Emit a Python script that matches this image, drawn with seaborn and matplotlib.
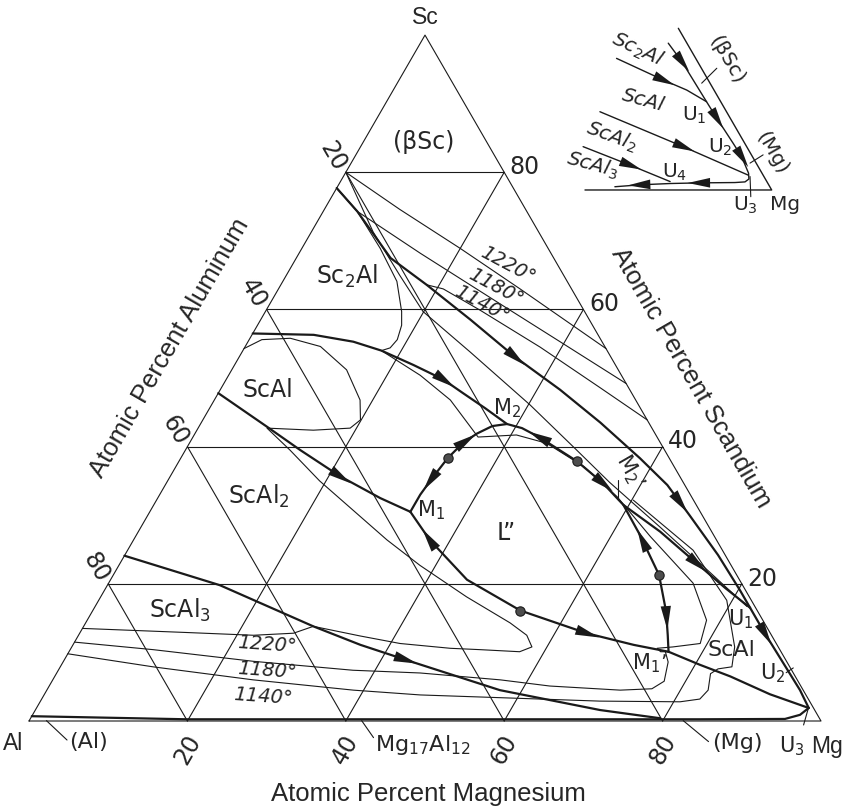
import numpy as np
import pandas as pd
import matplotlib
matplotlib.use("Agg")
import matplotlib.pyplot as plt
import seaborn as sns

sns.set_theme(style="white")
plt.rcParams["font.family"] = ["DejaVu Sans"]
plt.rcParams["mathtext.fontset"] = "dejavusans"

H = np.sqrt(3) / 2

# ---- Al-Mg-Sc liquidus projection, compositions in at.% (Mg, Sc) ----
ticks = [20, 40, 60, 80]

# isotherms (thin)
iso1220_top_mg = [0, 9.5, 20.0, 30.5, 45.7]
iso1220_top_sc = [80, 74.6, 68.9, 63.0, 54.3]
iso1180_top_mg = [0, 4.3, 15.3, 29.1, 39.4, 50.8]
iso1180_top_sc = [77.7, 74.3, 68.2, 60.8, 55.3, 49.2]
iso1140_top_mg = [18.4, 20.8, 27.0, 37.3, 47.8, 56.1]
iso1140_top_sc = [63.6, 63.0, 59.9, 54.5, 48.6, 43.9]
bsc_side_mg = [0, 7.8, 14.3, 19.9, 28.8, 40.2, 49.4, 55.9, 65.5, 75.1, 82.3]
bsc_side_sc = [80, 71.3, 65.0, 59.7, 53.8, 46.1, 39.5, 34.8, 28.3, 21.7, 16.7]
sc2al_iso_mg = [0, 4.3, 9.9, 14.4, 17.2, 18.2, 18.7, 18.4, 17.5]
sc2al_iso_sc = [77.7, 74.3, 68.9, 64.1, 59.7, 57.7, 55.6, 54.4, 54.0]
gap_iso_mg = [17.5, 24.2, 29.8, 36.0, 40.7, 45.1, 51.5, 57.9, 65.0, 73.8, 78.2, 79.1, 75.9, 74.0, 74.7, 75.7]
gap_iso_sc = [54.0, 50.4, 46.8, 41.4, 41.7, 40.5, 37.1, 32.7, 26.9, 20.1, 14.7, 11.3, 10.8, 10.6, 10.1, 10.1]
scal_iso_mg = [0, 1.6, 5.1, 9.5, 14.5, 18.4, 19.9, 19.2, 14.7, 8.7, 13.2, 19.2, 32.0, 38.0, 46.2,
               53.6, 56.6, 58.1, 56.9, 51.8, 47.9, 41.2, 35.6, 29.0]
scal_iso_sc = [54.3, 55.6, 55.8, 54.6, 51.2, 46.8, 43.9, 42.7, 42.4, 42.7, 39.5, 35.0, 26.4, 22.7, 18.1,
               14.3, 12.5, 10.8, 10.1, 10.4, 10.6, 11.3, 12.4, 13.8]
iso1220_bot_mg = [0, 13.5, 22.1, 27.0, 29.0]
iso1220_bot_sc = [13.5, 12.9, 12.5, 12.8, 13.8]
iso1180_bot_mg = [0, 10.5, 24.0, 37.2, 45.9, 56.5, 63.2, 72.4, 76.3, 77.3, 76.4, 75.3]
iso1180_bot_sc = [11.5, 10.4, 8.7, 7.4, 7.0, 6.0, 5.1, 4.5, 4.7, 5.8, 8.6, 10.1]
iso1140_bot_mg = [0, 11.7, 25.3, 38.7, 47.5, 57.8, 70.6, 80.8, 83.1, 83.5, 82.6, 83.2, 84.8, 83.7, 79.3, 71.4, 60.2]
iso1140_bot_sc = [9.8, 7.9, 6.0, 4.5, 3.8, 3.4, 2.9, 2.8, 3.2, 4.5, 6.9, 7.6, 7.9, 10.8, 17.6, 24.9, 32.2]

# monovariant lines (bold)
sc2al_scal_mg = [0, 7.8, 13.3, 17.5, 22.6, 27.4, 30.9, 34.8, 38.7]
sc2al_scal_sc = [56.5, 56.3, 55.3, 54.0, 51.9, 49.8, 47.8, 45.6, 43.3]
scal_scal2_mg = [0, 8.6, 14.5, 21.4, 28.1, 32.9]
scal_scal2_sc = [47.8, 42.9, 39.5, 35.7, 32.5, 30.5]
bsc_line_mg = [0, 4.3, 11.9, 18.4, 26.5, 34.8, 42.9, 50.4, 58.0, 63.4, 68.4, 74.9, 80.2, 82.8, 86.5, 92.1, 95.1, 97.5]
bsc_line_sc = [77.7, 74.3, 67.5, 63.6, 58.5, 53.1, 48.3, 43.5, 38.3, 34.4, 30.0, 24.2, 19.1, 16.5, 12.8, 7.4, 4.5, 1.9]
m2p_u1_mg = [59.3, 65.9, 72.8, 78.2, 82.8]
m2p_u1_sc = [31.5, 27.6, 23.0, 19.4, 16.5]
gap_up_mg = [32.9, 32.9, 33.2, 33.7, 34.5, 35.6, 37.0, 38.7, 40.9, 43.9, 50.2, 55.1, 59.3, 63.6, 68.9, 72.5, 74.4, 75.7]
gap_up_sc = [30.5, 33.0, 35.4, 38.3, 40.5, 41.9, 43.0, 43.3, 42.7, 41.3, 37.9, 34.7, 31.5, 27.1, 21.3, 15.9, 12.5, 10.1]
gap_low_mg = [32.9, 37.4, 45.0, 54.0, 64.0, 70.8, 75.7]
gap_low_sc = [30.5, 26.4, 20.6, 16.1, 12.8, 11.1, 10.1]
m1p_u3_mg = [75.7, 80.6, 85.3, 91.6, 97.5]
m1p_u3_sc = [10.1, 8.2, 6.5, 3.9, 1.9]
scal2_scal3_mg = [0, 14.2, 29.0, 36.3, 43.8, 57.2, 71.3, 79.5]
scal2_scal3_sc = [24.1, 19.8, 13.8, 11.1, 8.7, 4.5, 1.6, 0.4]
mg_line_mg = [97.5, 96.9, 95.3, 84.6, 59.4, 19.8, 0]
mg_line_sc = [1.9, 0.9, 0.3, 0.25, 0.25, 0.25, 0.7]

crit_mg = [33.7, 50.2, 68.9, 54.0]
crit_sc = [38.3, 37.9, 21.3, 16.1]

# inset (magnified Mg corner, own ternary frame)
ins_a1_mg = [49.6, 56.1, 68.9, 74.2, 82.5, 86.8, 91.2, 92.2, 91.6, 89.0, 79.7, 71.8, 64.0, 57.5]
ins_a1_sc = [45.4, 39.7, 27.3, 22.2, 14.4, 10.3, 5.2, 3.4, 2.5, 2.3, 2.2, 2.0, 1.6, 1.0]
ins_a2_mg = [38.1, 54.0, 61.8, 68.9]
ins_a2_sc = [40.7, 34.0, 30.9, 27.3]
ins_a3_mg = [41.9, 69.6, 91.4]
ins_a3_sc = [24.2, 13.4, 4.6]
ins_a4_mg = [42.8, 58.2, 71.5]
ins_a4_sc = [13.4, 7.7, 2.6]


def tern(mg, sc):
    mg = np.asarray(mg, float)
    sc = np.asarray(sc, float)
    return mg + sc / 2, sc * H


def curve_df(curves):
    rows = []
    for name, (mg, sc) in curves.items():
        x, y = tern(mg, sc)
        rows.append(pd.DataFrame({"x": x, "y": y, "curve": name}))
    return pd.concat(rows, ignore_index=True)


def draw(ax, curves, lw):
    df = curve_df(curves)
    sns.lineplot(data=df, x="x", y="y", units="curve", estimator=None, sort=False,
                 color="k", lw=lw, ax=ax, legend=False)


def arrow(ax, mg, sc, at_mg, at_sc, sign, L=3.0, W=1.3):
    x, y = tern(mg, sc)
    p = np.array(tern(at_mg, at_sc), float)
    best = None
    for k in range(len(x) - 1):
        a = np.array([x[k], y[k]])
        ab = np.array([x[k + 1], y[k + 1]]) - a
        t = np.clip(np.dot(p - a, ab) / np.dot(ab, ab), 0, 1)
        q = a + t * ab
        d = np.hypot(*(p - q))
        if best is None or d < best[0]:
            best = (d, q, ab / np.hypot(*ab))
    _, q, t = best
    t = t * sign
    n = np.array([-t[1], t[0]])
    tip = q + t * L * 0.55
    b = q - t * L * 0.45
    pts = np.array([tip, b + n * W / 2, b - n * W / 2])
    ax.fill(pts[:, 0], pts[:, 1], color="k", lw=0, zorder=5)


fig = plt.figure(figsize=(8.45, 8.06), dpi=100)
ax = fig.add_axes([0, 0, 1, 1])
ax.set_xlim(-3.662, 103.03)
ax.set_ylim(-10.732, 91.035)
ax.axis("off")

# frame and grid
frame = {"edge": ([0, 100, 0, 0], [0, 0, 100, 0])}
for k in ticks:
    frame[f"sc{k}"] = ([0, 100 - k], [k, k])
    frame[f"mg{k}"] = ([k, k], [0, 100 - k])
    frame[f"al{k}"] = ([100 - k, 0], [0, 100 - k])
draw(ax, frame, 0.8)

thin = {
    "i1220t": (iso1220_top_mg, iso1220_top_sc),
    "i1180t": (iso1180_top_mg, iso1180_top_sc),
    "i1140t": (iso1140_top_mg, iso1140_top_sc),
    "bsc": (bsc_side_mg, bsc_side_sc),
    "sc2al": (sc2al_iso_mg, sc2al_iso_sc),
    "gapiso": (gap_iso_mg, gap_iso_sc),
    "scal": (scal_iso_mg, scal_iso_sc),
    "i1220b": (iso1220_bot_mg, iso1220_bot_sc),
    "i1180b": (iso1180_bot_mg, iso1180_bot_sc),
    "i1140b": (iso1140_bot_mg, iso1140_bot_sc),
}
draw(ax, thin, 0.8)

bold = {
    "B1": (sc2al_scal_mg, sc2al_scal_sc),
    "B2": (scal_scal2_mg, scal_scal2_sc),
    "B3": (bsc_line_mg, bsc_line_sc),
    "B4": (m2p_u1_mg, m2p_u1_sc),
    "gu": (gap_up_mg, gap_up_sc),
    "gl": (gap_low_mg, gap_low_sc),
    "B5": (m1p_u3_mg, m1p_u3_sc),
    "B6": (scal2_scal3_mg, scal2_scal3_sc),
    "B7": (mg_line_mg, mg_line_sc),
}
draw(ax, bold, 1.6)

arrows = [("B1", 27.5, 49.7, 1), ("B2", 21.4, 35.7, 1), ("B3", 34.8, 53.1, 1),
          ("B3", 66.1, 31.8, 1), ("B3", 86.5, 12.8, 1), ("B4", 72.8, 23.0, 1),
          ("B6", 43.0, 8.9, 1), ("gu", 33.3, 35.1, -1), ("gu", 34.7, 40.7, 1),
          ("gu", 43.9, 41.3, -1), ("gu", 55.1, 34.7, 1), ("gu", 64.6, 26.4, -1),
          ("gu", 73.0, 15.2, 1), ("gl", 37.4, 26.4, -1), ("gl", 64.0, 12.8, 1)]
for key, amg, asc, s in arrows:
    arrow(ax, *bold[key], amg, asc, s)

cx, cy = tern(crit_mg, crit_sc)
sns.scatterplot(x=cx, y=cy, s=45, color="#4d4d4d", edgecolor="k", linewidth=0.8,
                ax=ax, zorder=6, legend=False)

# tick labels
for k in ticks:
    x, y = tern(0, 100 - k)
    ax.text(x - 1.6, y + 2.0, str(k), rotation=-60, ha="center", va="center", fontsize=17)
    x, y = tern(100 - k, k)
    ax.text(x + 2.6, y + 0.65, str(k), ha="center", va="center", fontsize=17)
    x, y = tern(k, 0)
    ax.text(x, y - 3.65, str(k), rotation=60, ha="center", va="center", fontsize=17)

lib = "Liberation Sans"
ax.text(50.0, 88.8, "Sc", ha="center", va="center", fontsize=16.5, family=lib)
ax.text(-2.0, -2.8, "Al", ha="center", va="center", fontsize=16.5, family=lib)
ax.text(100.7, -3.2, "Mg", ha="center", va="center", fontsize=16.5, family=lib)
ax.text(17.7, 47.1, "Atomic Percent Aluminum", rotation=60, ha="center", va="center",
        fontsize=18.5, family=lib)
ax.text(83.6, 43.3, "Atomic Percent Scandium", rotation=-60, ha="center", va="center",
        fontsize=18.5, family=lib)
ax.text(50.4, -9.2, "Atomic Percent Magnesium", ha="center", va="center",
        fontsize=18.5, family=lib)

labels = [((49.8, 73.1), "(βSc)", 17, 0), ((40.1, 56.1), "Sc$_2$Al", 17, 0),
          ((30.2, 41.8), "ScAl", 17, 0), ((29.0, 28.3), "ScAl$_2$", 17, 0),
          ((19.1, 14.0), "ScAl$_3$", 17, 0), ((60.3, 23.7), "L”", 17, 0),
          ((50.8, 26.6), "M$_1$", 15, 0), ((60.3, 39.5), "M$_2$", 15, 0),
          ((75.9, 31.5), "M$_2$’", 15, -60), ((78.4, 7.3), "M$_1$’", 15, 0),
          ((89.8, 12.8), "U$_1$", 15, 0), ((93.9, 6.0), "U$_2$", 15, 0),
          ((88.7, 9.0), "ScAl", 16, 0), ((96.3, -3.2), "U$_3$", 15, 0)]
for (x, y), s, fs, rot in labels:
    ax.text(x, y, s, ha="center", va="center", fontsize=fs, rotation=rot)

ax.text(7.5, -2.6, "(Al)", ha="center", va="center", fontsize=16)
ax.text(43.7, -3.0, "Mg$_{17}$Al$_{12}$", ha="left", va="center", fontsize=16)
ax.text(86.2, -2.8, "(Mg)", ha="left", va="center", fontsize=16)
for (x0, y0), (x1, y1) in [((2.2, 0.05), (4.8, -2.4)), ((42.0, 0.05), (43.5, -2.1)),
                           ((82.6, 0.05), (85.8, -2.6)), ((98.4, 1.6), (97.8, -0.5)),
                           ((74.4, 30.4), (74.4, 27.9)), ((95.6, 6.1), (96.5, 6.7))]:
    ax.plot([x0, x1], [y0, y1], color="k", lw=0.8)

for (x, y), s, rot in [((60.5, 57.6), "1220°", -28), ((58.9, 54.8), "1180°", -28),
                       ((57.2, 52.7), "1140°", -28), ((30.0, 9.6), "1220°", -4),
                       ((30.0, 6.4), "1180°", -4), ((29.6, 3.1), "1140°", -4)]:
    ax.text(x, y, s, ha="center", va="center", fontsize=14, style="italic", rotation=rot)

# inset: schematic of the Mg corner
ax2 = fig.add_axes([560 / 845, (806 - 215) / 806, 285 / 845, 215 / 806])
ax2.set_xlim(43.31, 119.63)
ax2.set_ylim(-6.70, 50.88)
ax2.axis("off")
ins = {"edge": ([50, 100, 50], [0, 0, 50]),
       "a1": (ins_a1_mg, ins_a1_sc), "a2": (ins_a2_mg, ins_a2_sc),
       "a3": (ins_a3_mg, ins_a3_sc), "a4": (ins_a4_mg, ins_a4_sc)}
draw(ax2, ins, 1.0)
for key, amg, asc, s in [("a1", 56.1, 39.7, 1), ("a1", 74.2, 22.2, 1), ("a1", 86.8, 10.3, 1),
                         ("a1", 79.7, 2.2, 1), ("a1", 64.0, 1.6, 1), ("a2", 54.0, 34.0, 1),
                         ("a3", 69.6, 13.4, 1), ("a4", 58.2, 7.7, 1)]:
    arrow(ax2, *ins[key], amg, asc, s, L=6.0, W=2.6)
for (x0, y0), (x1, y1) in [((81.25, 28.6), (85.3, 32.6)), ((94.2, 7.2), (97.7, 9.4)),
                           ((94.2, 3.6), (94.4, -1.8))]:
    ax2.plot([x0, x1], [y0, y1], color="k", lw=0.8)
for (x, y), s, rot, st in [((64.2, 37.5), "Sc$_2$Al", -25, "italic"),
                           ((65.5, 24.1), "ScAl", -15, "italic"),
                           ((57.2, 14.2), "ScAl$_2$", -20, "italic"),
                           ((52.1, 6.7), "ScAl$_3$", -15, "italic"),
                           ((79.4, 20.1), "U$_1$", 0, "normal"),
                           ((86.1, 11.5), "U$_2$", 0, "normal"),
                           ((74.1, 4.6), "U$_4$", 0, "normal"),
                           ((92.9, -4.0), "U$_3$", 0, "normal"),
                           ((103.6, -4.0), "Mg", 0, "normal"),
                           ((88.0, 34.8), "(βSc)", -60, "normal"),
                           ((100.0, 9.9), "(Mg)", -60, "normal")]:
    ax2.text(x, y, s, ha="center", va="center", fontsize=14.5, rotation=rot, style=st)

fig.savefig("out.png", dpi=100, facecolor="white")
